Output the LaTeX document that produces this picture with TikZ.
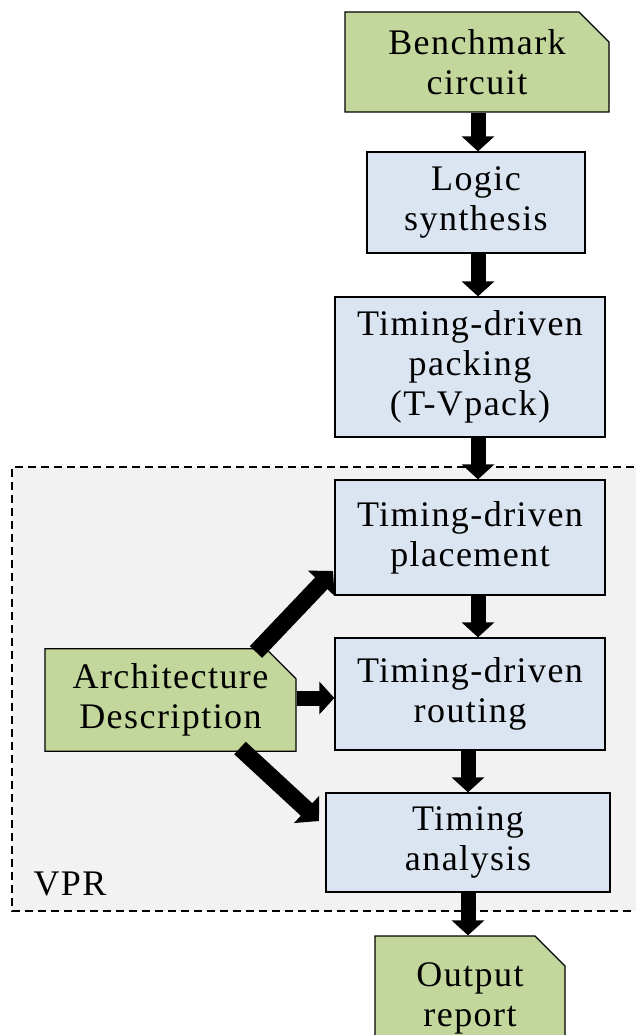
\documentclass[tikz,border=0pt]{standalone}
\usepackage{fontspec}
\setmainfont{Liberation Serif}[LetterSpace=4]
\usetikzlibrary{shapes.misc,arrows.meta}
\definecolor{docgreen}{HTML}{C3D69B}
\definecolor{stepblue}{HTML}{DBE5F1}
\definecolor{vprgray}{HTML}{F2F2F2}
\begin{document}
\begin{tikzpicture}[x=1pt,y=1pt,
  font=\fontsize{36}{40}\selectfont,
  box/.style={draw=black, line width=1.3pt, fill=stepblue, align=center,
    inner sep=0pt, rectangle},
  doc/.style={draw=black, line width=1.3pt, fill=docgreen, align=center,
    inner sep=0pt, chamfered rectangle,
    chamfered rectangle corners=north east,
    chamfered rectangle xsep=15pt, chamfered rectangle ysep=15pt},
  barrow/.style={line width=15pt, -{Triangle[width=32pt,length=15pt]}},
  darrow/.style={line width=17pt, -{Triangle[width=36pt,length=17pt]}}]
\useasboundingbox (0,0) rectangle (636,-1035);
\clip (0,0) rectangle (636,-1035);

% VPR region
\fill[vprgray] (12,-467) rectangle (660,-911);
\draw[line width=1.2pt, dash pattern=on 8pt off 5pt]
  (660,-467) -- (12,-467) -- (12,-911) -- (660,-911);
\node[anchor=west] (vpr) at (30,-884) {VPR};

% flow steps
\node[doc, minimum width=264pt, minimum height=100pt] (bench) at (477,-62) {Benchmark\\circuit};
\node[box, minimum width=218pt, minimum height=101pt] (logic) at (476,-202.5) {Logic\\synthesis};
\node[box, minimum width=270pt, minimum height=140pt] (pack) at (470,-367) {Timing-driven\\packing\\(T-Vpack)};
\node[box, minimum width=270pt, minimum height=115pt] (place) at (470,-537.5) {Timing-driven\\placement};
\node[box, minimum width=270pt, minimum height=112pt] (route) at (470,-694) {Timing-driven\\routing};
\node[box, minimum width=284pt, minimum height=99pt] (anal) at (468,-842.5) {Timing\\analysis};
\node[doc, minimum width=190pt, minimum height=124pt] (out) at (470,-998) {Output\\report};
\node[doc, minimum width=251pt, minimum height=100pt] (arch) at (170.5,-700) {Architecture\\Description};

% connectors
\coordinate (c1) at (478,0);
\coordinate (c2) at (468,0);
\draw[barrow] (bench.south -| c1) -- (logic.north -| c1);
\draw[barrow] (logic.south -| c1) -- (pack.north -| c1);
\draw[barrow] (pack.south -| c1) -- (place.north -| c1);
\draw[barrow] (place.south -| c1) -- (route.north -| c1);
\draw[barrow] (route.south -| c2) -- (anal.north -| c2);
\draw[barrow] (anal.south -| c2) -- (out.north -| c2);

\coordinate (a1) at (256,-652);
\coordinate (a2) at (333,-571);
\coordinate (a3) at (240,-748);
\coordinate (a4) at (319,-821);
\draw[darrow] (a1) -- (a2);
\draw[barrow] (arch.east |- 0,-698) -- (route.west |- 0,-698);
\draw[darrow] (a3) -- (a4);
\end{tikzpicture}
\end{document}
